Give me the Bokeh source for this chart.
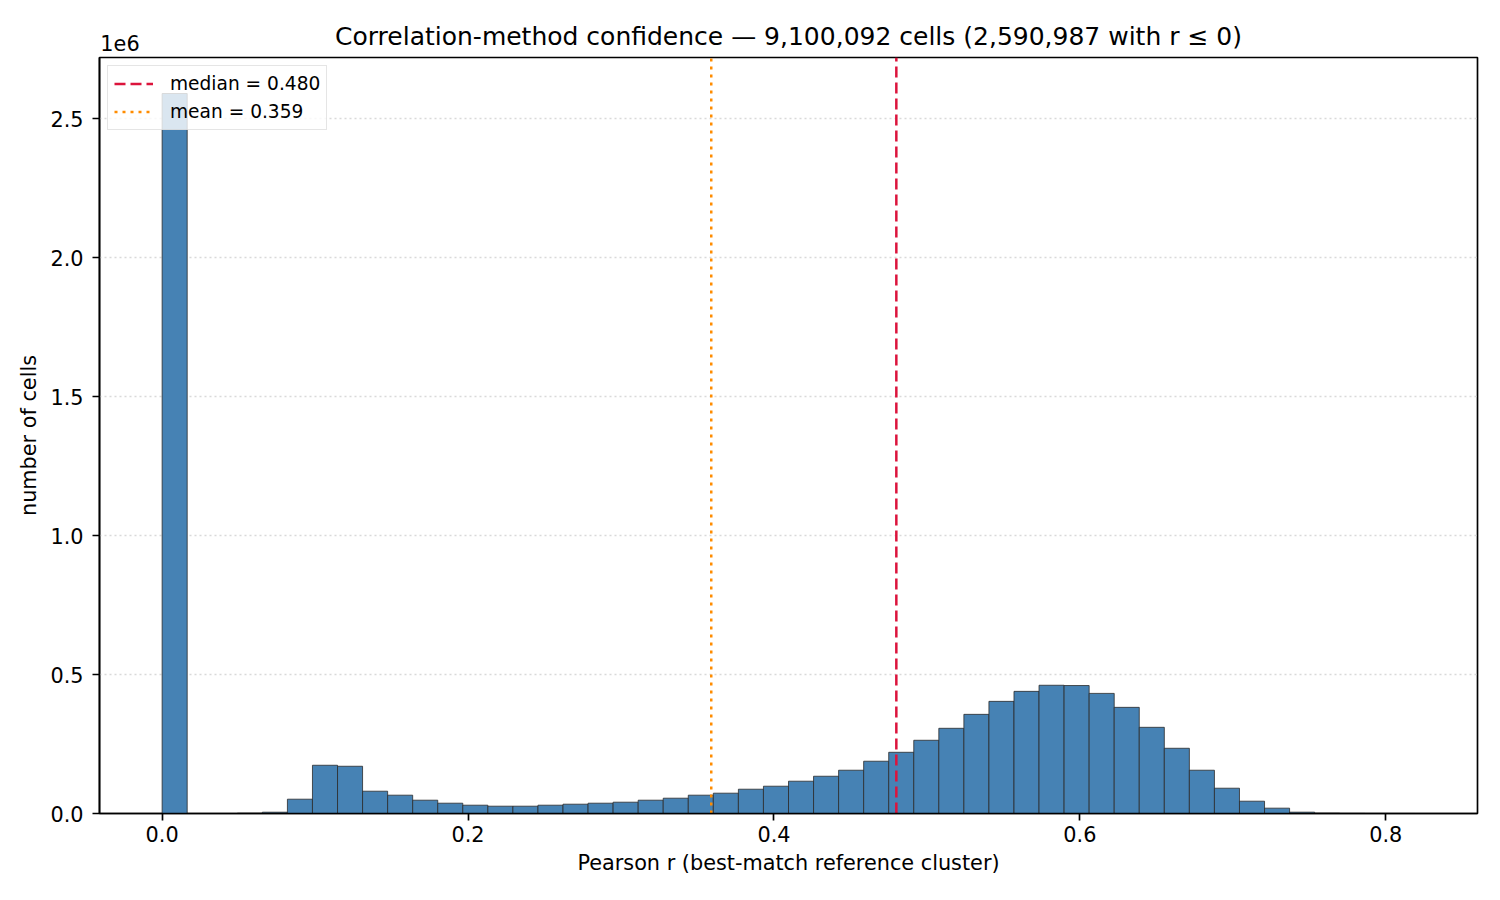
import numpy as np
from bokeh.plotting import figure
from bokeh.models import (FixedTicker, CustomJSTickFormatter, Range1d, LinearAxis,
                          ColumnDataSource, Legend, LegendItem)
from bokeh.embed import file_html
from bokeh.resources import INLINE

# ---- data ----
bin_lo = 0.0
bin_hi = 0.819
counts = [2590987, 0, 0, 1000, 4700, 51500, 173600, 170000, 80200, 65900,
          47900, 37100, 29900, 26300, 26300, 29900, 33500, 37100, 40700, 47900,
          55100, 65900, 73100, 87400, 98200, 116200, 134100, 155700, 188100, 220300,
          263500, 306600, 356800, 403500, 439500, 461500, 460500, 432200, 382000, 310100,
          234700, 155700, 91000, 44300, 19200, 4800, 1200, 400, 150, 50]
median_r = 0.480
mean_r = 0.359
n_cells = "9,100,092"
n_nonpos = "2,590,987"
x_ticks = [0.0, 0.2, 0.4, 0.6, 0.8]
y_ticks = [0, 500000, 1000000, 1500000, 2000000, 2500000]
y_scale_text = "1e6"
title_text = f"Correlation-method confidence \u2014 {n_cells} cells ({n_nonpos} with r \u2264 0)"

edges = np.linspace(bin_lo, bin_hi, len(counts) + 1)
src = ColumnDataSource(dict(left=edges[:-1], right=edges[1:], top=counts,
                            bottom=[0] * len(counts)))

span = bin_hi - bin_lo
x_start = bin_lo - 0.05 * span
x_end = bin_hi + 0.05 * span
y_end = max(counts) * 1.05

FONT = "DejaVu Sans"
W, H = 1484, 884
BL, BR, BT, BB = 99, 7, 57, 71
frame_w = W - BL - BR

p = figure(width=W, height=H, output_backend="svg", toolbar_location=None,
           x_range=Range1d(x_start, x_end), y_range=Range1d(0, y_end),
           min_border_left=BL, min_border_right=BR, min_border_top=BT,
           min_border_bottom=BB, title=None)

p.quad(left="left", right="right", top="top", bottom="bottom", source=src,
       fill_color="#4682B4", line_color="#2b2b2b", line_width=0.8)

r_med = p.line(x=[median_r, median_r], y=[0, y_end], line_color="#DC143C",
               line_width=2.5, line_dash="11 5")
r_mean = p.line(x=[mean_r, mean_r], y=[0, y_end], line_color="#FF8C00",
                line_width=2.5, line_dash="3 5")

legend = Legend(items=[LegendItem(label=f"median = {median_r:.3f}", renderers=[r_med]),
                       LegendItem(label=f"mean = {mean_r:.3f}", renderers=[r_mean])],
                location="top_left")
legend.margin = 8
legend.padding = 6
legend.spacing = 5
legend.glyph_width = 39
legend.glyph_height = 23
legend.label_height = 23
legend.label_standoff = 17
legend.label_text_font = FONT
legend.label_text_font_size = "18.6px"
legend.label_text_color = "black"
legend.border_line_color = "#cccccc"
legend.border_line_width = 1.5
legend.background_fill_alpha = 0.8
p.add_layout(legend)

# grid
p.xgrid.grid_line_color = None
p.ygrid.grid_line_color = "#d9d9d9"
p.ygrid.grid_line_width = 1.5
p.ygrid.grid_line_dash = "2 3"
p.ygrid.ticker = FixedTicker(ticks=y_ticks)

# axes
for ax in (p.xaxis[0], p.yaxis[0]):
    ax.axis_line_color = "black"
    ax.axis_line_width = 1.67
    ax.major_tick_line_color = "black"
    ax.major_tick_line_width = 1.67
    ax.major_tick_out = 7
    ax.major_tick_in = 0
    ax.minor_tick_line_color = None
    ax.major_label_text_font = FONT
    ax.major_label_text_font_size = "20.8px"
    ax.major_label_text_color = "black"
    ax.axis_label_text_font = FONT
    ax.axis_label_text_font_size = "20.8px"
    ax.axis_label_text_font_style = "normal"
    ax.axis_label_text_color = "black"

p.xaxis.ticker = FixedTicker(ticks=x_ticks)
p.xaxis.formatter = CustomJSTickFormatter(code="return tick.toFixed(1);")
p.xaxis.axis_label = "Pearson r (best-match reference cluster)"
p.xaxis.major_label_standoff = 5
p.xaxis.axis_label_standoff = 6

p.yaxis.ticker = FixedTicker(ticks=y_ticks)
p.yaxis.formatter = CustomJSTickFormatter(code="return (tick/1e6).toFixed(1);")
p.yaxis.axis_label = "number of cells"
p.yaxis.major_label_standoff = 9
p.yaxis.axis_label_standoff = 6

# top axis carrying the "1e6" offset text (as its only tick label) and the title
scale_tick = x_start + 20.5 * (x_end - x_start) / frame_w
top = LinearAxis(ticker=FixedTicker(ticks=[scale_tick]),
                 formatter=CustomJSTickFormatter(code=f"return '{y_scale_text}';"),
                 axis_label=title_text)
top.axis_line_color = None
top.major_tick_line_color = None
top.minor_tick_line_color = None
top.major_tick_out = 0
top.major_tick_in = 0
top.major_label_standoff = 7
top.major_label_text_font = FONT
top.major_label_text_font_size = "20.8px"
top.major_label_text_color = "black"
top.axis_label_text_font = FONT
top.axis_label_text_font_size = "25px"
top.axis_label_text_font_style = "normal"
top.axis_label_text_color = "black"
top.axis_label_standoff = -19
p.add_layout(top, "above")

p.outline_line_color = "black"
p.outline_line_width = 1.67
p.outline_line_alpha = 1.0

open("out.html", "w").write(file_html(p, INLINE))
